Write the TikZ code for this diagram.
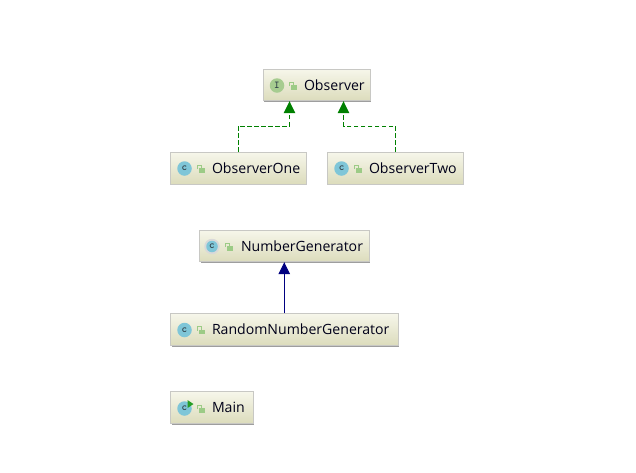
\documentclass[tikz,border=0pt]{standalone}
\usepackage{fontspec}
\setmainfont{Open Sans}
\usetikzlibrary{arrows.meta,shadows,positioning}
\definecolor{boxtop}{HTML}{F6F6EA}
\definecolor{boxbot}{HTML}{DCDCBC}
\definecolor{boxline}{HTML}{C8C8C4}
\definecolor{classblue}{HTML}{7FC6D8}
\definecolor{ifacegreen}{HTML}{A6CC90}
\definecolor{lockgreen}{HTML}{9CCB86}
\definecolor{realizeg}{HTML}{008000}
\definecolor{extendb}{HTML}{000080}
\definecolor{glyphc}{HTML}{2F4048}
\tikzset{
  umlbox/.style={draw=boxline, line width=0.9pt, rectangle, inner sep=0pt, minimum height=31.5pt,
    top color=boxtop, bottom color=boxbot, font=\fontsize{14.1}{16}\selectfont, text=black!90!blue,
    drop shadow={shadow xshift=1.2pt, shadow yshift=-1.4pt, fill=black!38, opacity=1}},
  iconc/.style={circle, fill=classblue, minimum size=14.5pt, inner sep=0pt, text=glyphc,
    font=\fontsize{10.5}{10}\bfseries\ttfamily},
  iconi/.style={iconc, fill=ifacegreen},
  realize/.style={draw=realizeg, line width=0.9pt, dash pattern=on 4.6pt off 2.4pt,
    -{Triangle[length=12pt,width=11.5pt,fill=realizeg]}},
  extends/.style={draw=extendb, line width=0.9pt,
    -{Triangle[length=12pt,width=11.5pt,fill=extendb]}},
  lockbody/.style={fill=lockgreen, draw=none},
}
\newcommand{\lockicon}[2]{%
  \draw[lockgreen, line width=1pt] (#1-3.2,#2+0.2) -- (#1-3.2,#2-3.6) -- (#1+0.4,#2-3.6) -- (#1+0.4,#2-1);
  \fill[lockbody] (#1-1.6,#2-1) rectangle (#1+4,#2+3.8);
}
\begin{document}
\begin{tikzpicture}[x=1pt,y=-1pt]
\useasboundingbox[fill=white] (0,0) rectangle (636,472);
\node[umlbox, minimum width=107pt] (observer) at (316.5,85)
  {\makebox[107pt][l]{\hspace{41pt}Observer}};
\node[umlbox, minimum width=135.5pt] (one) at (238.25,168.25)
  {\makebox[135.5pt][l]{\hspace{41.5pt}ObserverOne}};
\node[umlbox, minimum width=135.5pt] (two) at (395.25,168.25)
  {\makebox[135.5pt][l]{\hspace{41.5pt}ObserverTwo}};
\node[umlbox, minimum width=169.5pt] (number) at (284.25,246)
  {\makebox[169.5pt][l]{\hspace{41.5pt}NumberGenerator}};
\node[umlbox, minimum width=227.5pt] (random) at (284.25,329.5)
  {\makebox[227.5pt][l]{\hspace{41.5pt}RandomNumberGenerator}};
\node[umlbox, minimum width=82.5pt] (main) at (211.75,407.5)
  {\makebox[82.5pt][l]{\hspace{41.5pt}Main}};

% icons
\node[iconi] (iobserver) at (277,85.5) {I};
\node[iconc] (ione) at (184.5,168.5) {c};
\node[iconc] (itwo) at (341.5,168.5) {c};
\node[circle, fill=black!15, minimum size=15.5pt, inner sep=0pt] (ringnumber) at (212,246.5) {};
\node[iconc, minimum size=11.5pt] (inumber) at (212,246.5) {c};
\node[iconc] (irandom) at (184.5,330) {c};
\node[iconc] (imain) at (184.5,408.5) {c};
\fill[green!55!black!85] (187.5,400) -- (193.5,404) -- (187.5,408) -- cycle;

\lockicon{293}{86}
\lockicon{201}{169}
\lockicon{358}{169}
\lockicon{229}{247}
\lockicon{201}{330.5}
\lockicon{201}{409}

% connectors
\coordinate (bendone) at (289.5,126);
\coordinate (bendtwo) at (343.5,126);
\draw[realize] (one.north) |- (bendone) -- (bendone |- observer.south);
\draw[realize] (two.north) |- (bendtwo) -- (bendtwo |- observer.south);
\draw[extends] (random.north) -- (number.south);
\end{tikzpicture}
\end{document}
